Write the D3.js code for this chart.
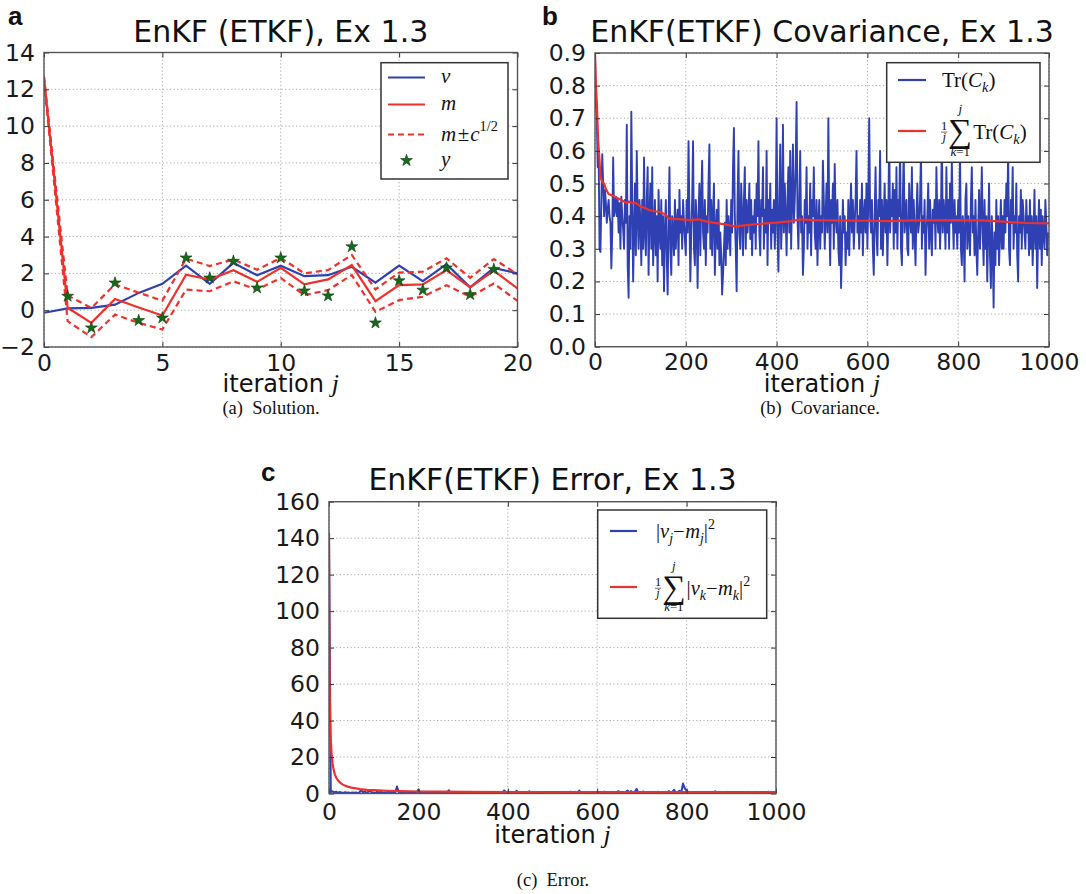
<!DOCTYPE html>
<html>
<head>
<meta charset="utf-8">
<script src="https://cdn.jsdelivr.net/npm/d3@7"></script>
<style>
  body { margin: 0; background: #fff; }
  svg { display: block; }
</style>
</head>
<body>
<script>
// ---------------- data ----------------
// (a) solution: truth v, filter mean m, m ± c^{1/2}, observations y
const solIter  = [0,1,2,3,4,5,6,7,8,9,10,11,12,13,14,15,16,17,18,19,20];
const solTruth = [-0.14,0.10,0.13,0.30,0.94,1.43,2.42,1.43,2.57,1.90,2.42,1.85,1.90,2.36,1.49,2.42,1.58,2.50,1.24,2.30,2.00];
const solMean  = [12.6,0.13,-0.69,0.61,0.15,-0.29,1.93,1.66,2.17,1.54,2.30,1.40,1.67,2.45,0.49,1.36,1.40,2.18,1.24,2.15,1.18];
const solUpper = [12.7,0.80,0.12,1.40,0.95,0.52,2.80,2.40,2.75,2.20,2.84,2.00,2.18,3.00,1.13,2.04,2.09,2.82,1.76,2.78,1.95];
const solLower = [12.5,-0.60,-1.46,-0.24,-0.69,-1.05,1.12,1.03,1.57,1.12,1.75,0.82,1.09,1.91,-0.09,0.55,0.73,1.36,0.73,1.45,0.50];
const obsIter  = [1,2,3,4,5,6,7,8,9,10,11,12,13,14,15,16,17,18,19];
const obsValue = [0.76,-0.96,1.48,-0.56,-0.42,2.84,1.75,2.66,1.21,2.84,1.05,0.78,3.45,-0.69,1.60,1.09,2.30,0.85,2.22];

// (b) covariance trace, sampled every 2 iterations (one row = 50 iterations)
const covStep = 2;
const covTrace = [
  0.90,0.74,0.70,0.55,0.60,0.30,0.29,0.45,0.59,0.50,0.40,0.48,0.44,0.38,0.42,0.45,0.40,0.38,0.24,0.35,0.58,0.40,0.42,0.46,0.40,
  0.45,0.35,0.44,0.30,0.46,0.40,0.36,0.30,0.45,0.38,0.68,0.25,0.15,0.40,0.30,0.72,0.45,0.20,0.35,0.50,0.28,0.60,0.40,0.30,0.45,
  0.38,0.25,0.45,0.30,0.58,0.35,0.28,0.45,0.55,0.22,0.40,0.50,0.30,0.55,0.25,0.35,0.45,0.28,0.40,0.20,0.48,0.35,0.30,0.45,0.25,
  0.40,0.17,0.35,0.45,0.28,0.16,0.38,0.55,0.30,0.22,0.40,0.35,0.28,0.45,0.30,0.38,0.42,0.25,0.48,0.35,0.40,0.30,0.45,0.38,0.33,
  0.28,0.45,0.35,0.63,0.40,0.20,0.35,0.45,0.63,0.30,0.25,0.45,0.38,0.18,0.40,0.50,0.28,0.45,0.57,0.35,0.30,0.45,0.25,0.40,0.35,
  0.50,0.62,0.30,0.45,0.28,0.40,0.50,0.22,0.35,0.42,0.30,0.45,0.25,0.35,0.28,0.16,0.22,0.30,0.38,0.25,0.45,0.30,0.40,0.35,0.28,
  0.45,0.35,0.55,0.67,0.40,0.30,0.17,0.45,0.60,0.35,0.30,0.50,0.40,0.28,0.45,0.55,0.30,0.45,0.35,0.40,0.50,0.33,0.45,0.28,0.40,
  0.35,0.45,0.30,0.50,0.40,0.63,0.35,0.28,0.45,0.40,0.55,0.30,0.42,0.35,0.60,0.25,0.45,0.38,0.50,0.30,0.42,0.35,0.45,0.30,0.40,
  0.70,0.35,0.23,0.45,0.62,0.30,0.40,0.68,0.35,0.50,0.40,0.28,0.45,0.55,0.35,0.60,0.30,0.45,0.62,0.38,0.45,0.55,0.75,0.40,0.30,
  0.45,0.60,0.35,0.40,0.22,0.30,0.45,0.38,0.55,0.30,0.40,0.35,0.50,0.28,0.45,0.40,0.55,0.35,0.30,0.45,0.25,0.38,0.45,0.30,0.40,
  0.35,0.57,0.45,0.30,0.40,0.50,0.35,0.70,0.40,0.25,0.45,0.38,0.50,0.30,0.56,0.40,0.35,0.45,0.30,0.25,0.40,0.18,0.30,0.45,0.35,
  0.40,0.25,0.35,0.30,0.45,0.28,0.40,0.50,0.35,0.45,0.30,0.38,0.45,0.60,0.35,0.40,0.30,0.45,0.35,0.50,0.28,0.40,0.45,0.35,0.50,
  0.30,0.45,0.70,0.40,0.35,0.45,0.30,0.22,0.40,0.55,0.35,0.28,0.45,0.40,0.60,0.30,0.45,0.28,0.40,0.50,0.35,0.45,0.25,0.40,0.65,
  0.35,0.45,0.40,0.50,0.30,0.48,0.35,0.55,0.30,0.45,0.40,0.62,0.30,0.25,0.45,0.60,0.35,0.40,0.45,0.30,0.28,0.50,0.40,0.35,0.55,
  0.30,0.45,0.35,0.25,0.40,0.50,0.35,0.38,0.45,0.60,0.30,0.40,0.35,0.45,0.22,0.35,0.40,0.50,0.30,0.45,0.35,0.28,0.42,0.38,0.45,
  0.30,0.55,0.40,0.35,0.45,0.30,0.40,0.65,0.35,0.45,0.40,0.30,0.55,0.35,0.45,0.30,0.50,0.38,0.57,0.40,0.30,0.45,0.35,0.40,0.30,
  0.45,0.35,0.60,0.30,0.25,0.40,0.35,0.20,0.45,0.50,0.30,0.40,0.35,0.28,0.45,0.55,0.35,0.40,0.28,0.45,0.30,0.22,0.35,0.48,0.30,
  0.40,0.55,0.35,0.25,0.45,0.30,0.40,0.20,0.35,0.50,0.28,0.18,0.40,0.30,0.12,0.35,0.25,0.45,0.30,0.40,0.25,0.35,0.45,0.30,0.40,
  0.30,0.45,0.35,0.50,0.40,0.60,0.30,0.25,0.45,0.38,0.55,0.30,0.40,0.35,0.50,0.28,0.20,0.40,0.35,0.48,0.30,0.45,0.40,0.35,0.30,
  0.45,0.35,0.40,0.28,0.45,0.30,0.40,0.25,0.35,0.48,0.30,0.40,0.18,0.35,0.45,0.30,0.42,0.25,0.40,0.35,0.30,0.45,0.38,0.28,0.35
];
// running average of the trace: [iteration, value]
const covMean = [
  [0,0.90],[2,0.80],[4,0.75],[7,0.63],[10,0.57],[12,0.52],[16,0.505],[20,0.50],[25,0.48],[30,0.468],
  [40,0.462],[50,0.455],[60,0.448],[70,0.44],[75,0.445],[82,0.44],[90,0.44],[100,0.43],[110,0.425],
  [120,0.418],[133,0.415],[145,0.412],[155,0.405],[162,0.393],[190,0.39],[210,0.388],[228,0.39],
  [245,0.384],[260,0.38],[286,0.375],[308,0.369],[330,0.372],[359,0.376],[400,0.38],[432,0.385],
  [454,0.39],[480,0.388],[520,0.387],[600,0.386],[650,0.385],[700,0.387],[750,0.387],[800,0.388],
  [850,0.387],[900,0.383],[950,0.379],[1000,0.378]
];

// (c) squared error, sampled every 4 iterations (one row = 100 iterations)
const errStep = 4;
const errSq = [
  143,0.8,1.2,0.6,1.0,0.4,0.8,0.5,0.3,0.7,0.4,0.6,0.3,0.5,0.4,0.6,0.3,0.5,2.0,0.6,1.2,0.4,0.9,1.4,0.5,
  0.6,0.3,1.0,0.5,0.8,0.4,0.6,0.3,1.2,0.5,0.7,0.4,0.3,3.8,0.8,0.5,0.3,0.6,0.4,0.2,0.5,0.3,0.7,0.4,0.6,
  2.2,0.5,0.3,0.4,0.6,0.2,0.5,0.3,0.4,0.2,0.5,0.3,0.6,0.4,0.3,0.5,0.2,1.8,0.4,0.3,0.5,0.2,0.4,0.3,0.5,
  0.3,0.5,0.2,0.4,0.9,0.3,0.6,0.4,0.2,0.5,0.3,0.8,0.4,0.6,0.3,0.5,0.2,0.4,0.3,0.6,0.4,0.3,0.5,1.7,0.6,
  0.3,0.5,0.4,0.2,0.6,1.5,0.3,0.4,0.6,0.3,0.5,0.2,1.2,0.4,0.3,0.5,0.2,0.4,0.6,0.3,0.2,0.4,0.3,0.5,0.2,
  0.4,0.3,0.2,0.5,0.3,0.2,0.4,0.8,0.3,0.6,1.0,0.4,0.3,0.9,0.5,1.6,0.4,0.3,0.5,0.2,0.4,0.3,0.6,0.4,0.3,
  0.5,0.3,0.8,0.4,1.1,0.3,0.6,0.4,0.9,0.5,0.3,0.7,1.3,0.4,0.6,0.3,0.9,1.6,0.5,1.3,0.4,0.8,2.5,0.6,0.4,
  0.7,1.1,0.4,0.3,0.6,0.9,0.4,0.3,0.5,1.0,0.6,0.4,0.3,0.7,0.4,1.3,0.5,0.9,2.0,0.4,0.8,1.5,0.5,5.5,2.8,
  1.6,0.8,0.4,0.3,0.5,0.2,0.4,0.3,0.2,0.4,0.3,0.2,0.5,0.3,0.2,0.4,1.2,0.3,0.6,0.4,0.8,0.3,0.5,0.9,0.4,
  0.6,0.3,0.8,0.4,0.3,0.6,0.4,0.3,0.5,0.9,0.4,0.3,0.6,0.4,0.9,0.3,0.5,0.4,0.8,0.3,0.5,1.0,0.4,0.6,0.8
];
// running average of the squared error: [iteration, value]
const errMean = [
  [0,143],[1,72],[2,48],[3,36],[4,29],[6,21],[8,16.5],[10,13.5],[13,10.5],[16,8.8],[20,7.2],[25,6],
  [30,5],[40,3.9],[50,3.2],[60,2.8],[70,2.4],[85,2.0],[100,1.8],[130,1.5],[160,1.3],[200,1.1],
  [250,1.0],[300,0.9],[400,0.8],[500,0.75],[600,0.72],[700,0.72],[800,0.75],[900,0.73],[1000,0.72]
];

// axis ticks
const solXTicks = [0,5,10,15,20];
const solYTicks = [-2,0,2,4,6,8,10,12,14];
const covXTicks = [0,200,400,600,800,1000];
const covYTicks = [0,0.1,0.2,0.3,0.4,0.5,0.6,0.7,0.8,0.9];
const errXTicks = [0,200,400,600,800,1000];
const errYTicks = [0,20,40,60,80,100,120,140,160];

// ---------------- drawing ----------------
const SANS = "'DejaVu Sans', sans-serif";
const SERIF = "'Liberation Serif', 'DejaVu Serif', serif";
const BLUE = "#2f40b2", RED = "#f0302a", GREEN = "#17691b";

const svg = d3.select("body").append("svg")
  .attr("width", 1086).attr("height", 894)
  .attr("viewBox", "0 0 1086 894");
svg.append("rect").attr("width", 1086).attr("height", 894).attr("fill", "#fff");

function makePanel(o) {
  const x = d3.scaleLinear().domain(o.xDomain).range([o.L, o.R]);
  const y = d3.scaleLinear().domain(o.yDomain).range([o.B, o.T]);
  const g = svg.append("g");
  g.append("clipPath").attr("id", o.id)
    .append("rect").attr("x", o.L).attr("y", o.T).attr("width", o.R - o.L).attr("height", o.B - o.T);

  const grid = g.append("g").attr("stroke", "#a8a8a8").attr("stroke-width", 1)
    .attr("stroke-dasharray", "1.2,2.4");
  grid.append("g").selectAll("line").data(o.xTicks).join("line")
    .attr("x1", d => x(d)).attr("x2", d => x(d)).attr("y1", o.T).attr("y2", o.B);
  grid.append("g").selectAll("line").data(o.yTicks).join("line")
    .attr("x1", o.L).attr("x2", o.R).attr("y1", d => y(d)).attr("y2", d => y(d));

  const plot = g.append("g").attr("clip-path", `url(#${o.id})`);
  const axes = g.append("g");
  const legend = g.append("g");

  const none = () => "";
  axes.append("g").attr("transform", `translate(0,${o.B})`)
    .call(d3.axisBottom(x).tickValues(o.xTicks).tickFormat(o.xFmt).tickSize(-5).tickPadding(o.xPad));
  axes.append("g").attr("transform", `translate(${o.L},0)`)
    .call(d3.axisLeft(y).tickValues(o.yTicks).tickFormat(o.yFmt).tickSize(-5).tickPadding(9));
  axes.append("g").attr("transform", `translate(0,${o.T})`)
    .call(d3.axisTop(x).tickValues(o.xTicks).tickFormat(none).tickSize(-5));
  axes.append("g").attr("transform", `translate(${o.R},0)`)
    .call(d3.axisRight(y).tickValues(o.yTicks).tickFormat(none).tickSize(-5));
  axes.selectAll(".domain").remove();
  axes.selectAll(".tick line").attr("stroke", "#333").attr("stroke-width", 1);
  axes.selectAll("text").attr("font-family", SANS).attr("font-size", 23.5).attr("fill", "#1a1a1a");
  axes.append("rect").attr("x", o.L).attr("y", o.T).attr("width", o.R - o.L).attr("height", o.B - o.T)
    .attr("fill", "none").attr("stroke", "#555").attr("stroke-width", 1.4);

  // title
  g.append("text").attr("x", (o.L + o.R) / 2).attr("y", o.titleY)
    .attr("text-anchor", "middle").attr("font-family", SANS).attr("font-size", 30).attr("fill", "#111")
    .text(o.title);
  // x label "iteration j"
  const xl = g.append("text").attr("x", (o.L + o.R) / 2).attr("y", o.xLabelY)
    .attr("text-anchor", "middle").attr("font-family", SANS).attr("font-size", 24).attr("fill", "#111");
  xl.append("tspan").text("iteration ");
  xl.append("tspan").attr("font-family", SERIF).attr("font-style", "italic").attr("font-size", 26).text("j");
  // panel letter
  g.append("text").attr("x", o.letterX).attr("y", o.letterY)
    .attr("font-family", "'Liberation Sans', Arial, sans-serif").attr("font-weight", "bold")
    .attr("font-size", 26).attr("fill", "#111").text(o.letter);
  // caption
  g.append("text").attr("x", o.capX).attr("y", o.capY).attr("text-anchor", "middle")
    .attr("font-family", SERIF).attr("font-size", 18.5).attr("fill", "#111")
    .attr("xml:space", "preserve").style("white-space", "pre").text(o.caption);

  return { x, y, plot, legend };
}

// sequential math-like text: items placed left to right, measured as they go
function mathRow(g, x0, yb, size, items) {
  let cx = x0;
  for (const it of items) {
    if (it.frac) {
      const fs = size * 0.6;
      const a = g.append("text").attr("font-family", SERIF).attr("font-size", fs).attr("y", yb - size * 0.42).text(it.num);
      const b = g.append("text").attr("font-family", SERIF).attr("font-size", fs).attr("font-style", "italic").attr("y", yb + size * 0.1).text(it.den);
      const w = Math.max(a.node().getComputedTextLength(), b.node().getComputedTextLength());
      a.attr("x", cx + w / 2).attr("text-anchor", "middle");
      b.attr("x", cx + w / 2).attr("text-anchor", "middle");
      g.append("line").attr("x1", cx).attr("x2", cx + w).attr("y1", yb - size * 0.33).attr("y2", yb - size * 0.33)
        .attr("stroke", "#111").attr("stroke-width", 0.6);
      cx += w + 1;
    } else if (it.sum) {
      const s = g.append("text").attr("font-family", SERIF).attr("font-size", size * 1.6)
        .attr("x", cx).attr("y", yb + size * 0.14).text("\u2211");
      const w = s.node().getComputedTextLength();
      g.append("text").attr("font-family", SERIF).attr("font-style", "italic").attr("font-size", size * 0.62)
        .attr("x", cx + w / 2).attr("y", yb - size * 1.22).attr("text-anchor", "middle").text(it.upper);
      const lo = g.append("text").attr("font-family", SERIF).attr("font-size", size * 0.62)
        .attr("x", cx + w / 2).attr("y", yb + size * 0.8).attr("text-anchor", "middle");
      lo.append("tspan").attr("font-style", "italic").text(it.lowerVar);
      lo.append("tspan").text(it.lowerRest);
      cx += w + 1;
    } else {
      const fs = it.scale ? size * it.scale : size;
      const t = g.append("text").attr("font-family", SERIF).attr("font-size", fs)
        .attr("font-style", it.italic ? "italic" : "normal")
        .attr("x", cx).attr("y", yb + (it.dy || 0) * size).text(it.t);
      cx += t.node().getComputedTextLength() + (it.gap || 0);
    }
  }
  g.selectAll("text").attr("fill", "#111");
  return cx;
}

function legendBox(g, x0, y0, x1, y1) {
  g.append("rect").attr("x", x0).attr("y", y0).attr("width", x1 - x0).attr("height", y1 - y0)
    .attr("fill", "#fff").attr("stroke", "#333").attr("stroke-width", 1.5);
}

// ---------- panel (a) ----------
const pa = makePanel({
  id: "clipA", L: 44, R: 517.5, T: 52.5, B: 347,
  xDomain: [0, 20], yDomain: [-2, 14], xTicks: solXTicks, yTicks: solYTicks,
  xFmt: d3.format("d"), yFmt: d3.format("d"), xPad: 7,
  title: "EnKF (ETKF), Ex 1.3", titleY: 42, xLabelY: 392,
  letter: "a", letterX: 8, letterY: 25, caption: "(a)  Solution.", capX: 271, capY: 414
});
{
  const line = (vals) => d3.line().x((d, i) => pa.x(solIter[i])).y(d => pa.y(d))(vals);
  pa.plot.append("path").attr("d", line(solTruth)).attr("fill", "none").attr("stroke", BLUE).attr("stroke-width", 2.2);
  pa.plot.append("path").attr("d", line(solMean)).attr("fill", "none").attr("stroke", RED).attr("stroke-width", 2.2);
  for (const band of [solUpper, solLower]) {
    pa.plot.append("path").attr("d", line(band)).attr("fill", "none").attr("stroke", RED)
      .attr("stroke-width", 2.2).attr("stroke-dasharray", "6,4");
  }
  const star = d3.symbol(d3.symbolStar, 44);
  pa.plot.selectAll("path.obs").data(obsValue).join("path").attr("class", "obs")
    .attr("transform", (d, i) => `translate(${pa.x(obsIter[i])},${pa.y(d)})`)
    .attr("d", star).attr("fill", GREEN).attr("stroke", "#0c3b0e").attr("stroke-width", 0.6);

  const lg = pa.legend;
  legendBox(lg, 381, 62.7, 508, 179);
  const rows = [77.5, 104.5, 134.5, 160.5];
  lg.append("line").attr("x1", 388).attr("x2", 425).attr("y1", rows[0]).attr("y2", rows[0]).attr("stroke", BLUE).attr("stroke-width", 2.2);
  lg.append("line").attr("x1", 388).attr("x2", 425).attr("y1", rows[1]).attr("y2", rows[1]).attr("stroke", RED).attr("stroke-width", 2.2);
  lg.append("line").attr("x1", 388).attr("x2", 425).attr("y1", rows[2]).attr("y2", rows[2]).attr("stroke", RED).attr("stroke-width", 2.2).attr("stroke-dasharray", "6,4");
  lg.append("path").attr("transform", `translate(406.5,${rows[3]})`).attr("d", star)
    .attr("fill", GREEN).attr("stroke", "#0c3b0e").attr("stroke-width", 0.6);
  mathRow(lg, 441, rows[0] + 5, 21, [{ t: "v", italic: true }]);
  mathRow(lg, 441, rows[1] + 5, 21, [{ t: "m", italic: true }]);
  mathRow(lg, 441, rows[2] + 6, 21, [
    { t: "m", italic: true, gap: 1.5 }, { t: "\u00b1", gap: 1 }, { t: "c", italic: true },
    { t: "1/2", scale: 0.68, dy: -0.45 }
  ]);
  mathRow(lg, 441, rows[3] + 5, 21, [{ t: "y", italic: true }]);
}

// ---------- panel (b) ----------
const pb = makePanel({
  id: "clipB", L: 595, R: 1049, T: 53, B: 346.7,
  xDomain: [0, 1000], yDomain: [0, 0.9], xTicks: covXTicks, yTicks: covYTicks,
  xFmt: d3.format("d"), yFmt: d3.format(".1f"), xPad: 7,
  title: "EnKF(ETKF) Covariance, Ex 1.3", titleY: 42, xLabelY: 392,
  letter: "b", letterX: 542, letterY: 25, caption: "(b)  Covariance.", capX: 820, capY: 414
});
{
  pb.plot.append("path")
    .attr("d", d3.line().x((d, i) => pb.x(i * covStep)).y(d => pb.y(d))(covTrace))
    .attr("fill", "none").attr("stroke", BLUE).attr("stroke-width", 1.9).attr("stroke-linejoin", "round");
  pb.plot.append("path")
    .attr("d", d3.line().x(d => pb.x(d[0])).y(d => pb.y(d[1]))(covMean))
    .attr("fill", "none").attr("stroke", RED).attr("stroke-width", 2.2);

  const lg = pb.legend;
  legendBox(lg, 886.7, 62.7, 1040, 162.3);
  lg.append("line").attr("x1", 898).attr("x2", 926).attr("y1", 80).attr("y2", 80).attr("stroke", BLUE).attr("stroke-width", 2.2);
  lg.append("line").attr("x1", 898).attr("x2", 926).attr("y1", 131).attr("y2", 131).attr("stroke", RED).attr("stroke-width", 2.2);
  const tr = [
    { t: "Tr(" }, { t: "C", italic: true }, { t: "k", italic: true, scale: 0.68, dy: 0.22 }, { t: ")" }
  ];
  mathRow(lg, 942, 87, 21, tr);
  mathRow(lg, 941, 139, 21, [
    { frac: true, num: "1", den: "j" },
    { sum: true, upper: "j", lowerVar: "k", lowerRest: "=1" }
  ].concat(tr));
}

// ---------- panel (c) ----------
const pc = makePanel({
  id: "clipC", L: 329, R: 776, T: 501.7, B: 793.5,
  xDomain: [0, 1000], yDomain: [0, 160], xTicks: errXTicks, yTicks: errYTicks,
  xFmt: d3.format("d"), yFmt: d3.format("d"), xPad: 10,
  title: "EnKF(ETKF) Error, Ex 1.3", titleY: 490, xLabelY: 843,
  letter: "c", letterX: 261, letterY: 481, caption: "(c)  Error.", capX: 553, capY: 886
});
{
  pc.plot.append("path")
    .attr("d", d3.line().x((d, i) => pc.x(i * errStep)).y(d => pc.y(d))(errSq))
    .attr("fill", "none").attr("stroke", BLUE).attr("stroke-width", 2).attr("stroke-linejoin", "round");
  pc.plot.append("path")
    .attr("d", d3.line().x(d => pc.x(d[0])).y(d => pc.y(d[1]))(errMean))
    .attr("fill", "none").attr("stroke", RED).attr("stroke-width", 2.2);

  const lg = pc.legend;
  legendBox(lg, 597.7, 510, 766.7, 618.3);
  lg.append("line").attr("x1", 610).attr("x2", 637).attr("y1", 531).attr("y2", 531).attr("stroke", BLUE).attr("stroke-width", 2.2);
  lg.append("line").attr("x1", 610).attr("x2", 637).attr("y1", 587).attr("y2", 587).attr("stroke", RED).attr("stroke-width", 2.2);
  const sub = (s) => ({ t: s, italic: true, scale: 0.68, dy: 0.22 });
  mathRow(lg, 656, 538, 20.5, [
    { t: "|" }, { t: "v", italic: true }, sub("j"), { t: "\u2212", gap: 0.5 }, { t: "m", italic: true }, sub("j"),
    { t: "|" }, { t: "2", scale: 0.68, dy: -0.45 }
  ]);
  mathRow(lg, 655, 595, 20.5, [
    { frac: true, num: "1", den: "j" },
    { sum: true, upper: "j", lowerVar: "k", lowerRest: "=1" },
    { t: "|" }, { t: "v", italic: true }, sub("k"), { t: "\u2212", gap: 0.5 }, { t: "m", italic: true }, sub("k"),
    { t: "|" }, { t: "2", scale: 0.68, dy: -0.45 }
  ]);
}
</script>
</body>
</html>
